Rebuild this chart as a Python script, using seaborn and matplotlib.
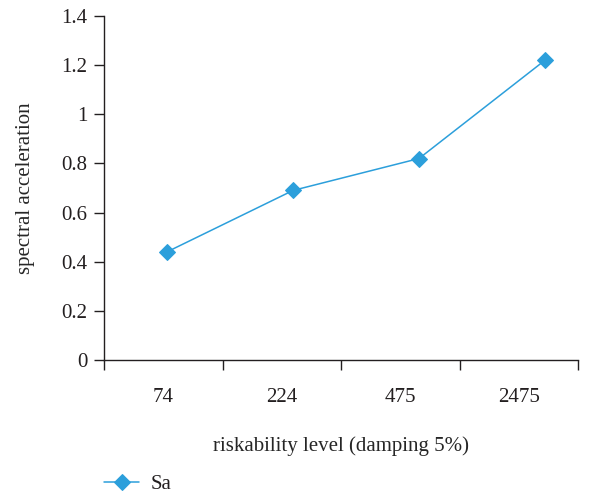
import matplotlib
matplotlib.use("Agg")
import matplotlib.pyplot as plt
import seaborn as sns
import pandas as pd

# Return-period categories and spectral acceleration values
levels = ["74", "224", "475", "2475"]
sa_values = [0.44, 0.69, 0.82, 1.22]
y_ticks = [0, 0.2, 0.4, 0.6, 0.8, 1.0, 1.2, 1.4]
y_tick_labels = ["0", "0.2", "0.4", "0.6", "0.8", "1", "1.2", "1.4"]

sns.set_style("white")
plt.rcParams["font.family"] = ["Liberation Serif", "DejaVu Serif"]
plt.rcParams["text.color"] = "#231f20"

color = "#2c9fdb"
fs = 15
df = pd.DataFrame({"idx": range(len(levels)), "level": levels, "Sa": sa_values})

fig = plt.figure(figsize=(6.11, 4.97), dpi=100)
rect = [104 / 611, 1 - 360 / 497, (578 - 104) / 611, (360 - 16) / 497]

# category axis: labels centred in bands, ticks on band edges
ax = fig.add_axes(rect)
ax.set_xlim(-0.5, len(levels) - 0.5)
ax.set_ylim(0, 1.4)
ax.set_xticks([i - 0.5 for i in range(len(levels) + 1)])
ax.set_xticklabels([])
ax.set_xticks(range(len(levels)), minor=True)
ax.set_xticklabels(levels, minor=True)
ax.tick_params(axis="x", which="major", direction="out", length=7, width=1,
               color="#231f20", bottom=True)
ax.tick_params(axis="x", which="minor", length=0, pad=20, labelsize=fs,
               labelcolor="#231f20")
ax.set_yticks(y_ticks)
ax.set_yticklabels(y_tick_labels)
ax.tick_params(axis="y", direction="out", length=7, width=1, color="#231f20",
               left=True, labelsize=fs, labelcolor="#231f20", pad=5)
for s in ["top", "right"]:
    ax.spines[s].set_visible(False)
for s in ["left", "bottom"]:
    ax.spines[s].set_color("#231f20")
    ax.spines[s].set_linewidth(1)
ax.set_xlabel("riskability level (damping 5%)", fontsize=fs, labelpad=21)
ax.set_ylabel("spectral acceleration", fontsize=fs, labelpad=19)

# series axis sharing the plot area
ax2 = fig.add_axes(rect, frameon=False)
sns.lineplot(data=df, x="idx", y="Sa", ax=ax2, color=color, marker="D",
             markersize=8, markeredgecolor=color, linewidth=1.1, label="Sa",
             legend=False)
ax2.set_xlim(-0.5, 3.262)
ax2.set_ylim(0, 1.4)
ax2.set_xticks([])
ax2.set_yticks([])
ax2.set_xlabel("")
ax2.set_ylabel("")

handles, labels = ax2.get_legend_handles_labels()
fig.legend(handles, labels, loc="center left",
           bbox_to_anchor=(104 / 611, 1 - 484 / 497),
           frameon=False, fontsize=fs, handlelength=1.7, handletextpad=0.55,
           borderaxespad=0, borderpad=0)

fig.savefig("out.png", dpi=100, facecolor="white")
